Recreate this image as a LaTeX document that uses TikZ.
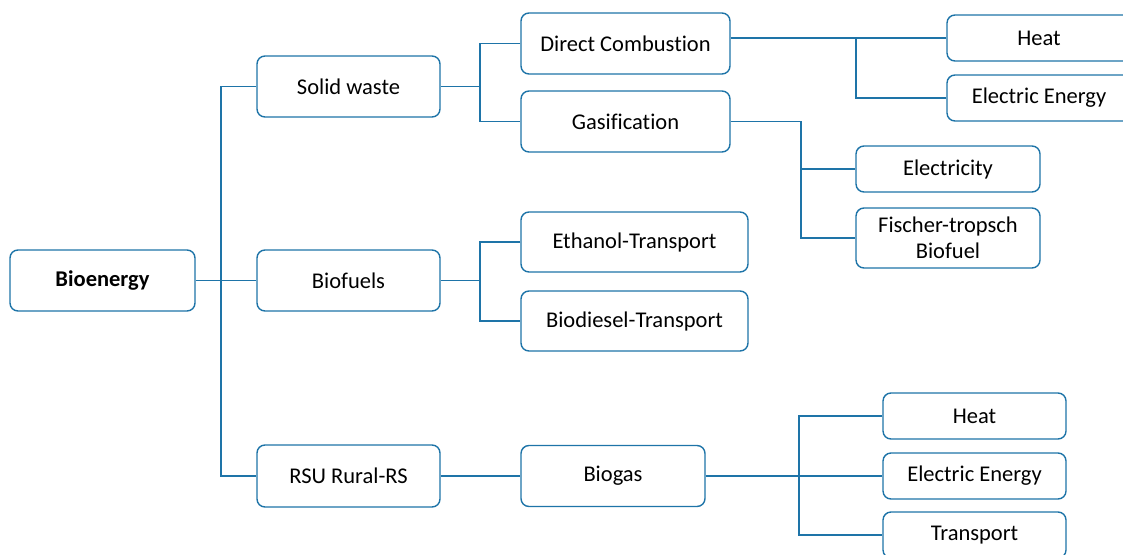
\documentclass[tikz,border=0pt]{standalone}
\usepackage{fontspec}
\setmainfont[Ligatures=NoCommon]{Carlito}
\definecolor{lineblue}{RGB}{30,116,168}
\begin{document}
\begin{tikzpicture}[x=1pt,y=-1pt,
  box/.style={draw=lineblue,line width=1.4pt,rounded corners=8pt,fill=white,
    inner sep=0pt,align=center,font=\fontsize{22.5}{26}\selectfont,text=black},
  conn/.style={draw=lineblue,line width=1.4pt}]
\useasboundingbox (0,0) rectangle (1123,554);
% level 0
\node[box,minimum width=185,minimum height=61] (bio) at (102.5,280.5) {\textbf{Bioenergy}};
% level 1
\node[box,minimum width=183,minimum height=61] (sw) at (348.5,86.5) {Solid waste};
\node[box,minimum width=183,minimum height=61] (bf) at (348.5,280.5) {Biofuels};
\node[box,minimum width=183,minimum height=62] (rsu) at (348.5,476) {RSU Rural-RS};
% level 2
\node[box,minimum width=209,minimum height=61] (dc) at (625.5,43.5) {Direct Combustion};
\node[box,minimum width=209,minimum height=61] (gas) at (625.5,121.5) {Gasification};
\node[box,minimum width=227,minimum height=60] (eth) at (634.5,242) {Ethanol-Transport};
\node[box,minimum width=227,minimum height=60] (bd) at (634.5,321) {Biodiesel-Transport};
\node[box,minimum width=184,minimum height=61] (bg) at (613,476) {Biogas};
% level 3
\node[box,minimum width=184,minimum height=46] (h1) at (1039,38) {Heat};
\node[box,minimum width=184,minimum height=46] (ee1) at (1039,98) {Electric Energy};
\node[box,minimum width=184,minimum height=46] (el) at (948,169) {Electricity};
\node[box,minimum width=184,minimum height=60] (ft) at (948,238) {Fischer-tropsch\\Biofuel};
\node[box,minimum width=183,minimum height=46] (h2) at (974.5,416) {Heat};
\node[box,minimum width=183,minimum height=46] (ee2) at (974.5,476) {Electric Energy};
\node[box,minimum width=183,minimum height=46] (tr) at (974.5,535) {Transport};
% connectors
\coordinate (j0) at (221,0);
\draw[conn] (bio.east) -- (j0 |- bio.east);
\draw[conn] (sw.west) -| (j0 |- bio.east) |- (rsu.west);
\draw[conn] (j0 |- bf.west) -- (bf.west);
\coordinate (j1) at (480,0);
\draw[conn] (sw.east) -- (j1 |- sw.east);
\draw[conn] (dc.west) -| (j1 |- sw.east) |- (gas.west);
\draw[conn] (bf.east) -- (j1 |- bf.east);
\draw[conn] (eth.west) -| (j1 |- bf.east) |- (bd.west);
\draw[conn] (rsu.east) -- (bg.west);
\coordinate (j2) at (856,0);
\draw[conn] (dc.east |- h1.west) -- (h1.west);
\draw[conn] (j2 |- h1.west) |- (ee1.west);
\coordinate (j3) at (801,0);
\draw[conn] (gas.east) -| (j3 |- ft.west) -- (ft.west);
\draw[conn] (j3 |- el.west) -- (el.west);
\coordinate (j4) at (799,0);
\draw[conn] (bg.east) -- (ee2.west);
\draw[conn] (h2.west) -| (j4 |- h2.west) |- (tr.west);
\end{tikzpicture}
\end{document}
